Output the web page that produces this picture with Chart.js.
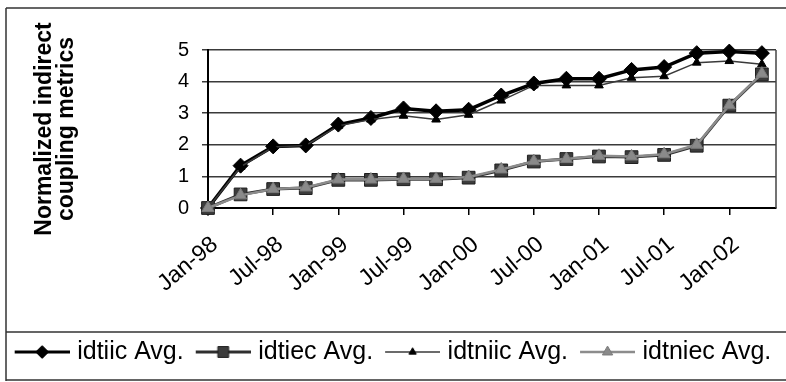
<!DOCTYPE html>
<html>
<head>
<meta charset="utf-8">
<script src="https://cdn.jsdelivr.net/npm/chart.js@4/dist/chart.umd.min.js"></script>
<style>
  html, body { margin: 0; padding: 0; background: #fff; }
  #wrap { width: 786px; height: 382px; position: relative; }
</style>
</head>
<body>
<div id="wrap"><canvas id="c" width="786" height="382"></canvas></div>
<script>
// ---- data ----
const dates = ['Jan-98','Apr-98','Jul-98','Oct-98','Jan-99','Apr-99','Jul-99','Oct-99','Jan-00','Apr-00','Jul-00','Oct-00','Jan-01','Apr-01','Jul-01','Oct-01','Jan-02','Apr-02'];
const tickLabels = ['Jan-98','Jul-98','Jan-99','Jul-99','Jan-00','Jul-00','Jan-01','Jul-01','Jan-02'];
const idtiic  = [0, 1.34, 1.95, 1.98, 2.64, 2.85, 3.15, 3.06, 3.11, 3.56, 3.94, 4.09, 4.09, 4.37, 4.46, 4.90, 4.95, 4.90];
const idtiec  = [0, 0.43, 0.60, 0.63, 0.89, 0.89, 0.91, 0.91, 0.96, 1.19, 1.47, 1.55, 1.63, 1.61, 1.68, 1.97, 3.24, 4.23];
const idtniic = [0, 1.30, 1.93, 1.98, 2.60, 2.80, 2.92, 2.80, 2.95, 3.40, 3.88, 3.88, 3.88, 4.12, 4.17, 4.60, 4.65, 4.55];
const idtniec = [0, 0.40, 0.60, 0.65, 0.90, 0.90, 0.92, 0.92, 0.98, 1.22, 1.48, 1.55, 1.65, 1.63, 1.70, 2.00, 3.25, 4.25];
const seriesNames = ['idtiic Avg.', 'idtiec Avg.', 'idtniic Avg.', 'idtniec Avg.'];
const yTitle = ['Normalized indirect', 'coupling metrics'];

// month offset from Jan-98 parsed from the date labels
const MONTHS = ['Jan','Feb','Mar','Apr','May','Jun','Jul','Aug','Sep','Oct','Nov','Dec'];
function monthIndex(s) {
  const [m, y] = s.split('-');
  const yy = parseInt(y, 10);
  const year = yy > 50 ? 1900 + yy : 2000 + yy;
  return (year - 1998) * 12 + MONTHS.indexOf(m);
}
const xs = dates.map(monthIndex);
const toPts = arr => arr.map((v, i) => ({ x: xs[i], y: v }));

const FONT = '"Liberation Sans", Arial, sans-serif';

const styles = [
  { line: '#000000', lw: 3.5, ps: 'rectRot',  r: 7.5, bg: '#000000', bc: '#000000' },
  { line: '#2e2e2e', lw: 3,   ps: 'rect',     r: 9,   bg: '#3c3c3c', bc: '#1e1e1e' },
  { line: '#3a3a3a', lw: 1.5, ps: 'triangle', r: 5,   bg: '#000000', bc: '#000000' },
  { line: '#8c8c8c', lw: 2.5, ps: 'triangle', r: 7,   bg: '#8a8a8a', bc: '#7a7a7a' }
];
const seriesData = [idtiic, idtiec, idtniic, idtniec];

// legend swatch: a short line with the marker in its middle
const BOXW = 50, EXT = 5;
function makeSwatch(st) {
  const cv = document.createElement('canvas');
  cv.width = BOXW + 2 * EXT; cv.height = 22;
  const ctx = cv.getContext('2d');
  const x0 = EXT, x1 = cv.width, cy = 11;
  ctx.strokeStyle = st.line; ctx.lineWidth = Math.min(st.lw, 3);
  ctx.beginPath(); ctx.moveTo(x0, cy); ctx.lineTo(x1, cy); ctx.stroke();
  ctx.fillStyle = st.bg; ctx.strokeStyle = st.bc; ctx.lineWidth = 1;
  Chart.helpers.drawPoint(ctx, { pointStyle: st.ps, radius: st.r * 0.85, borderWidth: 1, rotation: 0 }, (x0 + x1) / 2, cy);
  return cv;
}
const swatches = styles.map(makeSwatch);

const datasets = seriesData.map((arr, i) => ({
  label: seriesNames[i],
  data: toPts(arr),
  borderColor: styles[i].line,
  borderWidth: styles[i].lw,
  pointStyle: styles[i].ps,
  pointRadius: styles[i].r,
  pointBackgroundColor: styles[i].bg,
  pointBorderColor: styles[i].bc,
  pointBorderWidth: 1,
  tension: 0,
  clip: false,
  order: 3 - i
}));

const framePlugin = {
  id: 'frame',
  beforeDraw(chart) {
    const ctx = chart.ctx;
    ctx.save();
    ctx.fillStyle = '#fff';
    ctx.fillRect(0, 0, chart.width, chart.height);
    ctx.strokeStyle = '#333'; ctx.lineWidth = 1.5;
    ctx.beginPath();
    ctx.moveTo(6, 8); ctx.lineTo(786, 8);
    ctx.moveTo(6, 8); ctx.lineTo(6, 381);
    ctx.moveTo(6, 332); ctx.lineTo(786, 332);
    ctx.moveTo(6, 380); ctx.lineTo(786, 380);
    ctx.stroke();
    ctx.restore();
  },
  beforeDatasetsDraw(chart) {
    const a = chart.chartArea, ctx = chart.ctx;
    ctx.save();
    ctx.strokeStyle = '#444'; ctx.lineWidth = 1.5;
    ctx.beginPath();
    ctx.moveTo(a.right, a.top); ctx.lineTo(a.right, a.bottom);
    ctx.stroke();
    ctx.restore();
  }
};

new Chart(document.getElementById('c'), {
  type: 'line',
  data: { datasets },
  plugins: [framePlugin],
  options: {
    responsive: false,
    animation: false,
    events: [],
    layout: { padding: { left: 0, right: 0, top: 50, bottom: 7.5 } },
    scales: {
      x: {
        type: 'linear',
        min: 0, max: 52.3,
        afterBuildTicks: s => { s.ticks = tickLabels.map((_, i) => ({ value: i * 6 })); },
        afterFit: s => { s.height = 119.5; },
        grid: { display: true, drawOnChartArea: false, drawTicks: true, tickLength: 7, color: '#000', lineWidth: 1.5 },
        border: { display: true, color: '#000', width: 2 },
        ticks: {
          autoSkip: false, minRotation: 40, maxRotation: 40, padding: 16, labelOffset: 7,
          color: '#000', font: { family: FONT, size: 23 },
          callback: v => tickLabels[Math.round(v / 6)]
        }
      },
      y: {
        min: 0, max: 5,
        afterFit: s => { s.width = 208; },
        grid: { color: '#3a3a3a', lineWidth: 1.5, drawTicks: true, tickLength: 6 },
        border: { display: true, color: '#000', width: 2 },
        ticks: { stepSize: 1, autoSkip: false, padding: 13, color: '#000', font: { family: FONT, size: 20 } },
        title: {
          display: true, text: yTitle, color: '#000',
          font: { family: FONT, size: 23, weight: 'bold', lineHeight: 0.98 },
          padding: { top: 33, bottom: 0 }
        }
      },
      yR: {
        position: 'right', display: true,
        afterFit: s => { s.width = 8; },
        grid: { display: false }, border: { display: false }, ticks: { display: false }
      }
    },
    plugins: {
      tooltip: { enabled: false },
      legend: {
        display: true, position: 'bottom',
        labels: {
          usePointStyle: true, pointStyleWidth: BOXW, padding: 12,
          color: '#000', font: { family: FONT, size: 25 },
          generateLabels: chart => chart.data.datasets.map((ds, i) => ({
            text: ds.label, pointStyle: swatches[i], datasetIndex: i,
            fillStyle: ds.borderColor, strokeStyle: ds.borderColor, lineWidth: 0, hidden: false
          }))
        }
      }
    }
  }
});
</script>
</body>
</html>
